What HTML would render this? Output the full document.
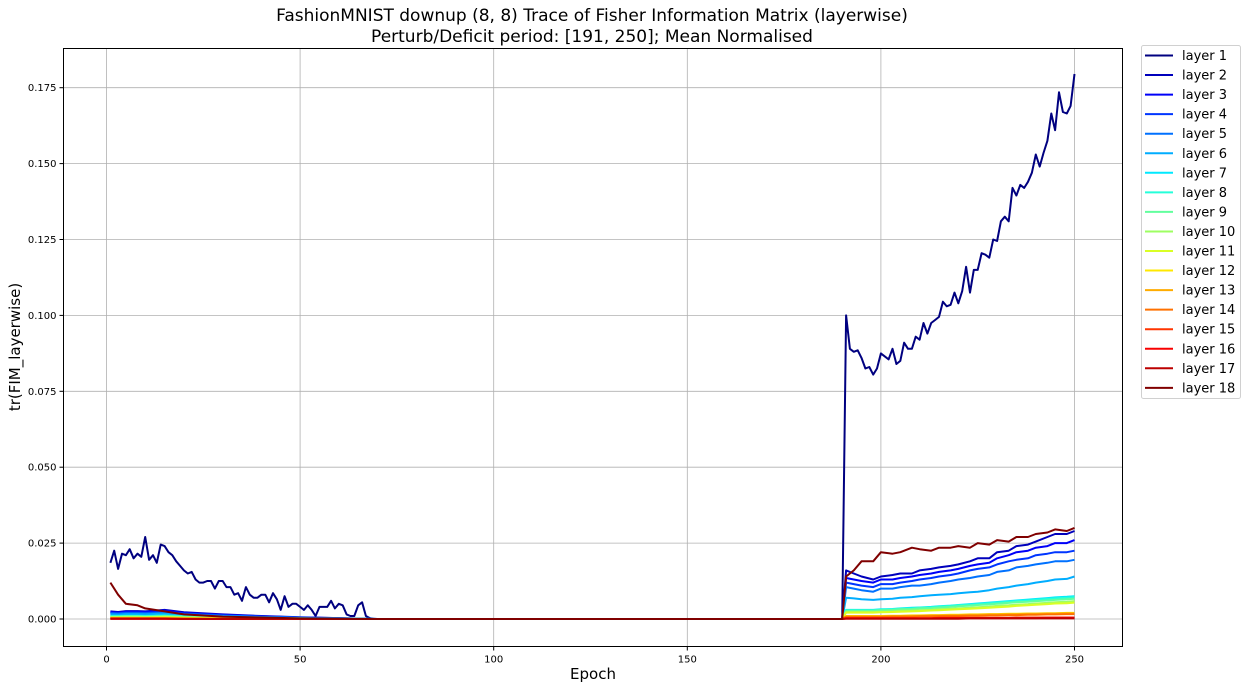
<!DOCTYPE html>
<html><head><meta charset="utf-8"><style>
body{margin:0;background:#fff;}
svg text{font-family:"DejaVu Sans","Liberation Sans",sans-serif;}
</style></head><body>
<svg id="chart" width="1247" height="689" xmlns="http://www.w3.org/2000/svg">
<text x="592" y="21" text-anchor="middle" font-size="17">FashionMNIST downup (8, 8) Trace of Fisher Information Matrix (layerwise)</text>
<text x="592" y="42" text-anchor="middle" font-size="17">Perturb/Deficit period: [191, 250]; Mean Normalised</text>
<g id="grid"></g>
<g id="series"></g>
<rect x="63.5" y="48.5" width="1059" height="598" fill="none" stroke="#000" stroke-width="1"/>
<g id="ticks"></g>
<text x="593" y="679" text-anchor="middle" font-size="15">Epoch</text>
<text transform="translate(20,347) rotate(-90)" text-anchor="middle" font-size="15">tr(FIM_layerwise)</text>
<g id="legend"></g>
</svg>
<script>
const xTicks=[0,50,100,150,200,250];
const yTicks=[0,0.025,0.05,0.075,0.1,0.125,0.15,0.175];
const yTickLabels=["0.000","0.025","0.050","0.075","0.100","0.125","0.150","0.175"];
// layer 1 values (x1e-3)
const l1EarlyEpochs=[1,2,3,4,5,6,7,8,9,10,11,12,13,14,15,16,17,18,19,20,21,22,23,24,25,26,27,28,29,30,31,32,33,34,35,36,37,38,39,40,41,42,43,44,45,46,47,48,49,50,51,52,53,54,55,56,57,58,59,60,61,62,63,64,65,66,67,68,69,190];
const l1EarlyVals=[18.5,22.5,16.5,21.5,21,23,20,21.5,20.5,27,19.5,21,18.5,24.5,24,22,21,19,17.5,16,15,15.5,13,12,12,12.5,12.5,10,12.5,12.5,10.5,10.5,8,8.5,6,10.5,8,7,7,8,8,5.5,8.5,6.5,3,7.5,4,5,5,4,3,4.5,3,1,4,4,4,6,3.5,5,4.5,1.5,1,1,4.5,5.5,1,0.3,0,0];
const l1LateEpochs=[191,192,193,194,195,196,197,198,199,200,201,202,203,204,205,206,207,208,209,210,211,212,213,214,215,216,217,218,219,220,221,222,223,224,225,226,227,228,229,230,231,232,233,234,235,236,237,238,239,240,241,242,243,244,245,246,247,248,249,250];
const l1LateVals=[100,89,88,88.5,86,82.5,83,80.5,82.5,87.5,86.5,85.5,89,84,85,91,89,89,93,92,97.5,94,97.5,98.5,99.5,104.5,103,103.5,107.5,104,108,116,107.5,115,115,120.5,120,119,125,124.5,131,132.5,131,142,139.5,143,142,144,147,153,149,153.5,157.5,166.5,161,173.5,167,166.5,169,179.5];
// other layers: coarse epochs
const earlyEpochs=[1,3,5,8,10,15,20,30,40,50,60,70,190];
const lateEpochs=[191,193,195,198,200,203,205,208,210,213,215,218,220,223,225,228,230,233,235,238,240,243,245,248,250];
const earlyVals={
2:[2.5,2.3,2.6,2.6,2.5,3,2.2,1.5,1,0.6,0.3,0,0],3:[2.3,2.1,2.4,2.4,2.3,2.8,2,1.4,0.9,0.5,0.3,0,0],
4:[2,1.9,2.1,2.1,2,2.4,1.8,1.2,0.8,0.5,0.2,0,0],5:[1.8,1.7,1.9,1.9,1.8,2.1,1.6,1.1,0.7,0.4,0.2,0,0],
6:[1.5,1.4,1.6,1.6,1.5,1.8,1.3,0.9,0.6,0.3,0.1,0,0],7:[1,1,1.1,1.1,1,1.2,0.9,0.6,0.4,0.2,0.1,0,0],
8:[0.9,0.9,1,1,0.9,1.1,0.8,0.5,0.3,0.2,0.1,0,0],9:[0.8,0.8,0.9,0.9,0.8,1,0.7,0.5,0.3,0.2,0.1,0,0],
10:[0.6,0.6,0.6,0.6,0.6,0.7,0.5,0.3,0.2,0.1,0,0,0],11:[0.5,0.5,0.5,0.5,0.5,0.6,0.4,0.3,0.2,0.1,0,0,0],
12:[0.3,0.3,0.3,0.3,0.3,0.3,0.2,0.1,0.1,0,0,0,0],13:[0.3,0.3,0.3,0.3,0.3,0.3,0.2,0.1,0.1,0,0,0,0],
14:[0.2,0.2,0.2,0.2,0.2,0.2,0.1,0.1,0,0,0,0,0],15:[0.1,0.1,0.1,0.1,0.1,0.1,0.1,0,0,0,0,0,0],
16:[0.1,0.1,0.1,0.1,0.1,0.1,0,0,0,0,0,0,0],17:[0.1,0.1,0.1,0.1,0.1,0.1,0,0,0,0,0,0,0],
18:[12,8,5,4.5,3.5,2.5,1.5,0.8,0.5,0.2,0.1,0,0]};
const lateVals={
2:[16,15,14,13,14,14.5,15,15,16,16.5,17,17.5,18,19,20,20,22,22.5,24,24.5,25.5,27,28,28,29],
3:[13.5,13,12.5,12,13,13,13.5,14,14.5,15,15.5,16,16.5,17.5,18,18.5,20,21,22,22.5,23.5,24,25,25,26],
4:[12,11.5,11,10.5,11.5,11.5,12,12.5,13,13.5,14,14.5,15,16,16.5,17,18,19,19.5,20,21,21.5,22,22,22.5],
5:[10.5,10,9.5,9,10,10,10.5,11,11,11.5,12,12.5,13,13.5,14,14.5,15.5,16,17,17.5,18,18.5,19,19,19.5],
6:[7,6.8,6.5,6.3,6.5,6.7,7,7.2,7.5,7.8,8,8.2,8.5,8.8,9,9.5,10,10.5,11,11.5,12,12.5,13,13.2,14],
7:[3,3,3,3,3.2,3.3,3.5,3.7,3.8,4,4.2,4.4,4.6,4.9,5.1,5.4,5.6,5.9,6.1,6.4,6.6,6.9,7.1,7.3,7.5],
8:[2.9,2.9,2.9,2.9,3.1,3.2,3.4,3.5,3.7,3.9,4.1,4.3,4.5,4.7,4.9,5.2,5.4,5.7,5.9,6.1,6.3,6.6,6.8,7,7.2],
9:[2.7,2.7,2.7,2.7,2.9,3,3.2,3.3,3.5,3.6,3.8,4,4.2,4.4,4.6,4.8,5,5.3,5.5,5.7,5.9,6.1,6.3,6.5,6.7],
10:[2.3,2.3,2.3,2.3,2.4,2.5,2.7,2.8,2.9,3,3.2,3.4,3.5,3.7,3.9,4.1,4.3,4.5,4.7,4.9,5.1,5.3,5.5,5.7,5.9],
11:[2.1,2.1,2.1,2.1,2.2,2.3,2.4,2.5,2.6,2.8,2.9,3.1,3.2,3.4,3.5,3.7,3.9,4.1,4.3,4.5,4.7,4.9,5.1,5.2,5.4],
12:[1,1,1,1,1,1.1,1.1,1.2,1.2,1.3,1.3,1.4,1.4,1.5,1.5,1.6,1.6,1.7,1.7,1.8,1.8,1.9,1.9,2,2],
13:[0.9,0.9,0.9,0.9,0.9,1,1,1.1,1.1,1.2,1.2,1.3,1.3,1.4,1.4,1.5,1.5,1.6,1.6,1.7,1.7,1.8,1.8,1.9,1.9],
14:[0.7,0.7,0.7,0.7,0.7,0.8,0.8,0.8,0.9,0.9,1,1,1,1.1,1.1,1.2,1.2,1.3,1.3,1.4,1.4,1.5,1.5,1.6,1.6],
15:[0.3,0.3,0.3,0.3,0.3,0.3,0.3,0.3,0.3,0.3,0.4,0.4,0.4,0.4,0.4,0.4,0.4,0.4,0.5,0.5,0.5,0.5,0.5,0.5,0.5],
16:[0.2,0.2,0.2,0.2,0.2,0.2,0.2,0.2,0.2,0.2,0.3,0.3,0.3,0.3,0.3,0.3,0.3,0.3,0.3,0.3,0.3,0.4,0.4,0.4,0.4],
17:[0.1,0.1,0.1,0.1,0.1,0.1,0.1,0.1,0.1,0.1,0.1,0.1,0.1,0.2,0.2,0.2,0.2,0.2,0.2,0.2,0.2,0.2,0.2,0.2,0.2],
18:[14,16,19,19,22,21.5,22,23.5,23,22.5,23.5,23.5,24,23.5,25,24.5,26,25.5,27,27,28,28.5,29.5,29,30]};

const NS="http://www.w3.org/2000/svg";
const X0=63.5,X1=1122.5,Y0=48.5,Y1=646.5;
function xs(e){return 106.5+(e)*3.872;}
function ys(v){return 619-v*3036;}
function jet(t){const c=x=>Math.round(255*Math.max(0,Math.min(1,x)));return `rgb(${c(1.5-Math.abs(4*t-3))},${c(1.5-Math.abs(4*t-2))},${c(1.5-Math.abs(4*t-1))})`;}
const grid=document.getElementById('grid'),ticks=document.getElementById('ticks');
xTicks.forEach(t=>{const x=xs(t);
 const l=document.createElementNS(NS,'line');l.setAttribute('x1',x);l.setAttribute('x2',x);l.setAttribute('y1',Y0);l.setAttribute('y2',Y1);l.setAttribute('stroke','#b0b0b0');l.setAttribute('stroke-width','0.8');
 
 grid.appendChild(l);
 const k=document.createElementNS(NS,'line');k.setAttribute('x1',x);k.setAttribute('x2',x);k.setAttribute('y1',Y1);k.setAttribute('y2',Y1+4);k.setAttribute('stroke','#000');ticks.appendChild(k);
 const tx=document.createElementNS(NS,'text');tx.setAttribute('x',x);tx.setAttribute('y',Y1+16);tx.setAttribute('text-anchor','middle');tx.setAttribute('font-size','10');tx.textContent=t;
 
 ticks.appendChild(tx);});
yTicks.forEach((t,i)=>{const y=ys(t);
 const l=document.createElementNS(NS,'line');l.setAttribute('x1',X0);l.setAttribute('x2',X1);l.setAttribute('y1',y);l.setAttribute('y2',y);l.setAttribute('stroke','#b0b0b0');l.setAttribute('stroke-width','0.8');
 
 grid.appendChild(l);
 const k=document.createElementNS(NS,'line');k.setAttribute('x1',X0-4);k.setAttribute('x2',X0);k.setAttribute('y1',y);k.setAttribute('y2',y);k.setAttribute('stroke','#000');ticks.appendChild(k);
 const tx=document.createElementNS(NS,'text');tx.setAttribute('x',X0-7);tx.setAttribute('y',y+3.5);tx.setAttribute('text-anchor','end');tx.setAttribute('font-size','10');tx.textContent=yTickLabels[i];
 
 ticks.appendChild(tx);});
const series=document.getElementById('series'),legend=document.getElementById('legend');
const lb=document.createElementNS(NS,'rect');lb.setAttribute('x',1141.5);lb.setAttribute('y',45.5);lb.setAttribute('width',99);lb.setAttribute('height',353);lb.setAttribute('rx',2);lb.setAttribute('fill','#fff');lb.setAttribute('stroke','#d0d0d0');

legend.appendChild(lb);
for(let L=1;L<=18;L++){
 let ep,va;
 if(L===1){ep=l1EarlyEpochs.concat(l1LateEpochs);va=l1EarlyVals.concat(l1LateVals);}
 else{ep=earlyEpochs.concat(lateEpochs);va=earlyVals[L].concat(lateVals[L]);}
 const col=jet((L-1)/17);
 const p=document.createElementNS(NS,'polyline');
 p.setAttribute('points',ep.map((e,i)=>xs(e).toFixed(1)+','+ys(va[i]/1000).toFixed(1)).join(' '));
 p.setAttribute('fill','none');p.setAttribute('stroke',col);p.setAttribute('stroke-width','2');p.setAttribute('stroke-linejoin','round');
 
 
 series.appendChild(p);
 const y=55.5+(L-1)*19.55;
 const g=document.createElementNS(NS,'g');
 
 
 const ll=document.createElementNS(NS,'line');ll.setAttribute('x1',1145);ll.setAttribute('x2',1173);ll.setAttribute('y1',y);ll.setAttribute('y2',y);ll.setAttribute('stroke',col);ll.setAttribute('stroke-width','2');g.appendChild(ll);
 const t=document.createElementNS(NS,'text');t.setAttribute('x',1182);t.setAttribute('y',y+4.5);t.setAttribute('font-size','13');t.textContent='layer '+L;g.appendChild(t);
 legend.appendChild(g);
}
</script>
</body></html>
